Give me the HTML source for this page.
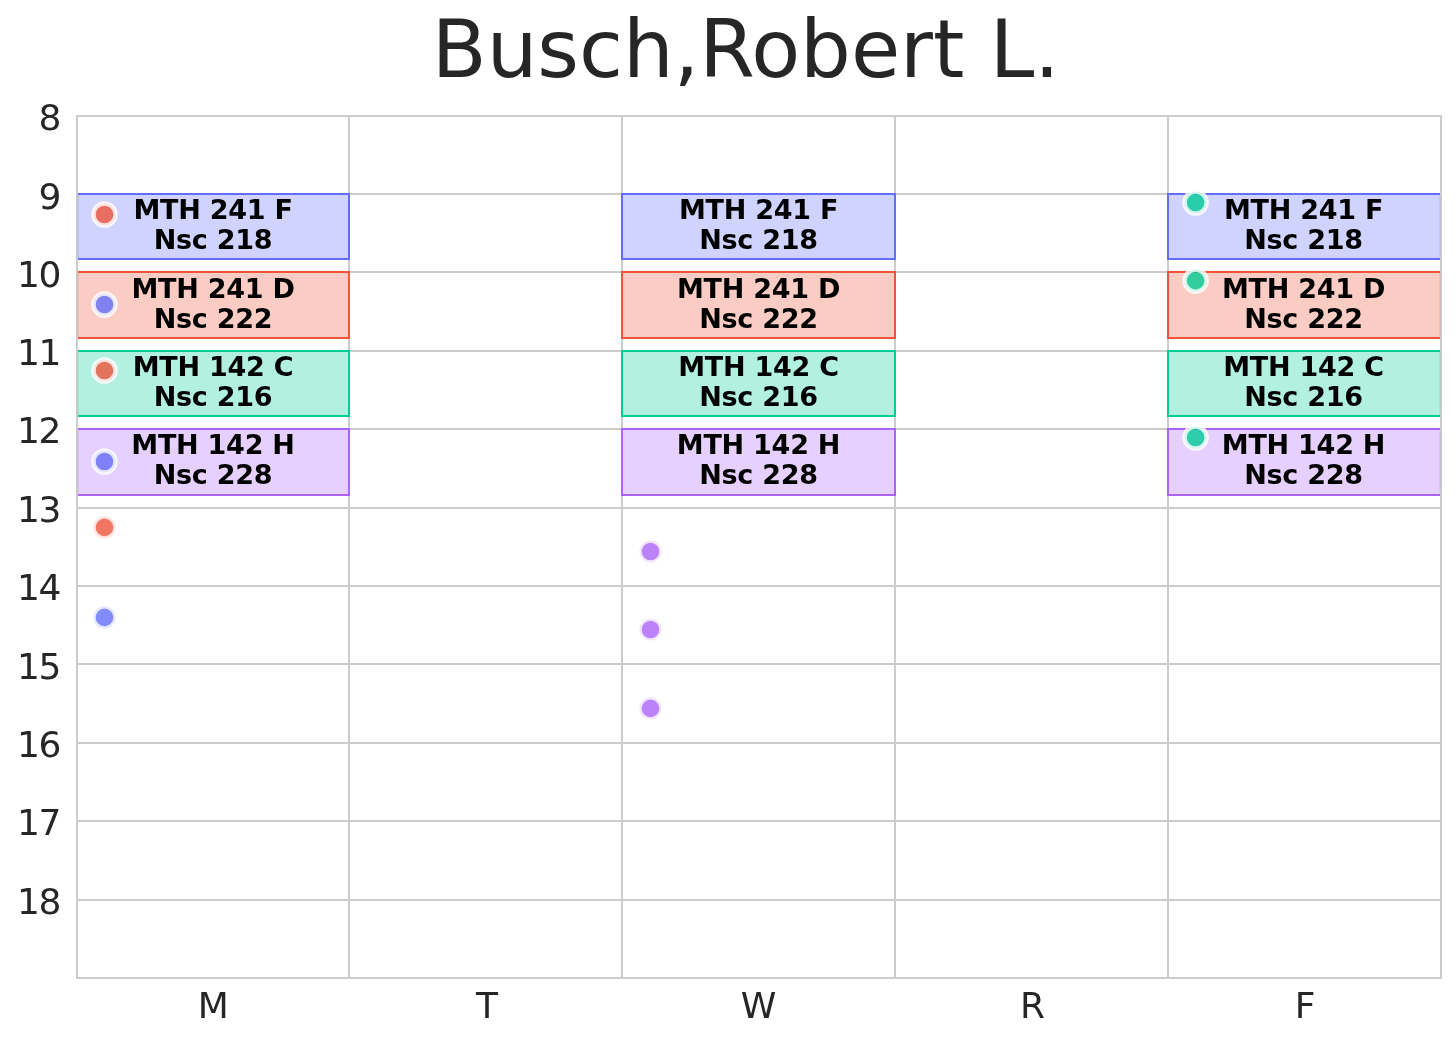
<!DOCTYPE html>
<html lang="en">
<head>
<meta charset="utf-8">
<title>Busch,Robert L.</title>
<style>
html,body{margin:0;padding:0;background:#ffffff;}
body{width:1456px;height:1040px;overflow:hidden;}
svg{display:block;}
text{font-family:"DejaVu Sans","Liberation Sans",sans-serif;}
.tick{font-size:36px;fill:#262626;}
.title{font-size:80px;fill:#262626;}
.lab{font-size:27px;font-weight:bold;fill:#000000;letter-spacing:-0.25px;}
</style>
</head>
<body>
<svg width="1456" height="1040" viewBox="0 0 1456 1040">
<rect x="0" y="0" width="1456" height="1040" fill="#ffffff"/>
<defs><clipPath id="ax"><rect x="77" y="116" width="1364" height="862"/></clipPath></defs>
<g stroke="#cccccc" stroke-width="2" shape-rendering="crispEdges">
<line x1="349" y1="116" x2="349" y2="978"/>
<line x1="622" y1="116" x2="622" y2="978"/>
<line x1="895" y1="116" x2="895" y2="978"/>
<line x1="1168" y1="116" x2="1168" y2="978"/>
<line x1="77" y1="194" x2="1441" y2="194"/>
<line x1="77" y1="272" x2="1441" y2="272"/>
<line x1="77" y1="351" x2="1441" y2="351"/>
<line x1="77" y1="429" x2="1441" y2="429"/>
<line x1="77" y1="508" x2="1441" y2="508"/>
<line x1="77" y1="586" x2="1441" y2="586"/>
<line x1="77" y1="664" x2="1441" y2="664"/>
<line x1="77" y1="743" x2="1441" y2="743"/>
<line x1="77" y1="821" x2="1441" y2="821"/>
<line x1="77" y1="900" x2="1441" y2="900"/>
</g>
<g clip-path="url(#ax)" stroke-width="2" shape-rendering="crispEdges">
<rect x="77" y="194" width="272" height="65" fill="#636EFA" fill-opacity="0.3" stroke="#636EFA"/>
<rect x="77" y="272" width="272" height="66" fill="#EF553B" fill-opacity="0.3" stroke="#EF553B"/>
<rect x="77" y="351" width="272" height="65" fill="#00CC96" fill-opacity="0.3" stroke="#00CC96"/>
<rect x="77" y="429" width="272" height="66" fill="#AB63FA" fill-opacity="0.3" stroke="#AB63FA"/>
<rect x="622" y="194" width="273" height="65" fill="#636EFA" fill-opacity="0.3" stroke="#636EFA"/>
<rect x="622" y="272" width="273" height="66" fill="#EF553B" fill-opacity="0.3" stroke="#EF553B"/>
<rect x="622" y="351" width="273" height="65" fill="#00CC96" fill-opacity="0.3" stroke="#00CC96"/>
<rect x="622" y="429" width="273" height="66" fill="#AB63FA" fill-opacity="0.3" stroke="#AB63FA"/>
<rect x="1168" y="194" width="273" height="65" fill="#636EFA" fill-opacity="0.3" stroke="#636EFA"/>
<rect x="1168" y="272" width="273" height="66" fill="#EF553B" fill-opacity="0.3" stroke="#EF553B"/>
<rect x="1168" y="351" width="273" height="65" fill="#00CC96" fill-opacity="0.3" stroke="#00CC96"/>
<rect x="1168" y="429" width="273" height="66" fill="#AB63FA" fill-opacity="0.3" stroke="#AB63FA"/>
</g>
<g stroke="#ffffff" stroke-width="4.5" stroke-opacity="0.8" fill-opacity="0.8">
<circle cx="104.5" cy="214.5" r="11.05" fill="#EF553B"/>
<circle cx="104.5" cy="304.5" r="11.05" fill="#636EFA"/>
<circle cx="104.5" cy="370.5" r="11.05" fill="#EF553B"/>
<circle cx="104.5" cy="461.5" r="11.05" fill="#636EFA"/>
<circle cx="104.5" cy="527.4" r="11.05" fill="#EF553B"/>
<circle cx="104.5" cy="617.4" r="11.05" fill="#636EFA"/>
<circle cx="650.5" cy="551.5" r="11.05" fill="#AB63FA"/>
<circle cx="650.5" cy="629.5" r="11.05" fill="#AB63FA"/>
<circle cx="650.5" cy="708.4" r="11.05" fill="#AB63FA"/>
<circle cx="1195.6" cy="202.5" r="11.05" fill="#00CC96"/>
<circle cx="1195.6" cy="280.6" r="11.05" fill="#00CC96"/>
<circle cx="1195.6" cy="437.5" r="11.05" fill="#00CC96"/>
</g>
<rect x="77" y="116" width="1364" height="862" fill="none" stroke="#cccccc" stroke-width="2" shape-rendering="crispEdges"/>
<g stroke-width="2" stroke-opacity="0.12" shape-rendering="crispEdges">
<line x1="78" y1="195" x2="78" y2="258" stroke="#636EFA"/><line x1="1440" y1="195" x2="1440" y2="258" stroke="#636EFA"/>
<line x1="78" y1="273" x2="78" y2="337" stroke="#EF553B"/><line x1="1440" y1="273" x2="1440" y2="337" stroke="#EF553B"/>
<line x1="78" y1="352" x2="78" y2="415" stroke="#00CC96"/><line x1="1440" y1="352" x2="1440" y2="415" stroke="#00CC96"/>
<line x1="78" y1="430" x2="78" y2="494" stroke="#AB63FA"/><line x1="1440" y1="430" x2="1440" y2="494" stroke="#AB63FA"/>
</g>
<g class="lab" text-anchor="middle">
<text x="213" y="219">MTH 241 F</text><text x="213" y="249">Nsc 218</text>
<text x="213" y="298">MTH 241 D</text><text x="213" y="328">Nsc 222</text>
<text x="213" y="376">MTH 142 C</text><text x="213" y="406">Nsc 216</text>
<text x="213" y="454">MTH 142 H</text><text x="213" y="484">Nsc 228</text>
<text x="758.5" y="219">MTH 241 F</text><text x="758.5" y="249">Nsc 218</text>
<text x="758.5" y="298">MTH 241 D</text><text x="758.5" y="328">Nsc 222</text>
<text x="758.5" y="376">MTH 142 C</text><text x="758.5" y="406">Nsc 216</text>
<text x="758.5" y="454">MTH 142 H</text><text x="758.5" y="484">Nsc 228</text>
<text x="1303.5" y="219">MTH 241 F</text><text x="1303.5" y="249">Nsc 218</text>
<text x="1303.5" y="298">MTH 241 D</text><text x="1303.5" y="328">Nsc 222</text>
<text x="1303.5" y="376">MTH 142 C</text><text x="1303.5" y="406">Nsc 216</text>
<text x="1303.5" y="454">MTH 142 H</text><text x="1303.5" y="484">Nsc 228</text>
</g>
<g class="tick" text-anchor="end">
<text x="61.4" y="130">8</text>
<text x="61.4" y="209">9</text>
<text x="61.4" y="287" dx="0 -1.4">10</text>
<text x="61.4" y="365" dx="0 -1.4">11</text>
<text x="61.4" y="443" dx="0 -1.4">12</text>
<text x="61.4" y="522" dx="0 -1.4">13</text>
<text x="61.4" y="600" dx="0 -1.4">14</text>
<text x="61.4" y="679" dx="0 -1.4">15</text>
<text x="61.4" y="757" dx="0 -1.4">16</text>
<text x="61.4" y="835" dx="0 -1.4">17</text>
<text x="61.4" y="914" dx="0 -1.4">18</text>
</g>
<g class="tick" text-anchor="middle">
<text x="213.2" y="1018">M</text>
<text x="486.9" y="1018">T</text>
<text x="758.5" y="1018">W</text>
<text x="1032.5" y="1018">R</text>
<text x="1305" y="1018">F</text>
</g>
<text class="title" text-anchor="middle" x="745.8" y="77.2">Busch,Robert L.</text>
</svg>
</body>
</html>
